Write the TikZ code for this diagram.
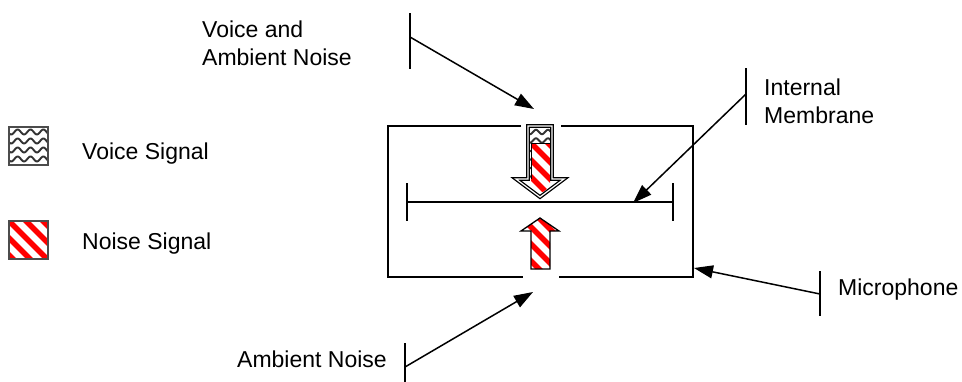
\documentclass[tikz,border=0pt]{standalone}
\usepackage{fontspec}
\setmainfont{Liberation Sans}
\usetikzlibrary{arrows.meta}
\begin{document}
\begin{tikzpicture}[x=1pt,y=-1pt,
  lbl/.style={font=\fontsize{23}{28}\selectfont, inner sep=0pt, anchor=base west},
  tickline/.style={line width=1.5pt},
  leader/.style={line width=1.5pt, -{Triangle[length=19pt,width=13pt]}},
  wall/.style={line width=2.6pt},
  outl/.style={line width=1.3pt},
  redstripe/.style={red, line width=5.5pt},
  waveline/.style={line width=1.9pt, black!80}]
\useasboundingbox (0,0) rectangle (962,381);

% ---------- legend ----------
\begin{scope}
  \clip (9,127) rectangle (48,165);
  \foreach \k in {0,...,4}{
    \pgfmathsetmacro{\yy}{127+5+9*\k}
    \draw[waveline] plot[domain=0:42, samples=50, smooth] ({8+\x}, {\yy+2.5*sin(\x*28)});
  }
\end{scope}
\draw[line width=1.3pt, black!70] (9,127) rectangle (48,165);
\node[lbl] (voicesig) at (82,159) {Voice Signal};

\begin{scope}
  \clip (9,221) rectangle (48,259);
  \foreach \k in {-4,...,3}
    \draw[redstripe] ({9+17*\k-10},211) -- ++(70,70);
\end{scope}
\draw[line width=1.3pt, black!70] (9,221) rectangle (48,259);
\node[lbl] (noisesig) at (82,249) {Noise Signal};

% ---------- microphone body ----------
\draw[wall] (521,126) -- (388,126) -- (388,277) -- (523,277);
\draw[wall] (561,126) -- (693,126) -- (693,277) -- (559,277);

% membrane
\coordinate (memL) at (407,202);
\coordinate (memR) at (673,202);
\draw[line width=1.7pt] (memL) -- (memR);
\draw[line width=1.7pt] (407,183) -- (407,221);
\draw[line width=1.7pt] (673,183) -- (673,221);

% ---------- down arrow (voice + noise) ----------
\fill[white] (528,126) -- (552,126) -- (552,179) -- (564,179) -- (540,197) -- (516,179) -- (528,179) -- cycle;
\begin{scope}
  \clip (528,126) rectangle (552,179);
  \foreach \k in {0,...,6}{
    \pgfmathsetmacro{\yy}{126+6+8.5*\k}
    \draw[waveline] plot[domain=0:28, samples=40, smooth] ({527+\x}, {\yy+2.2*sin(\x*30)});
  }
\end{scope}
\fill[white] (531,143) rectangle (550,190);
\begin{scope}
  \clip (531,143) -- (550,143) -- (550,179) -- (561,179) -- (540,194) -- (519,179) -- (531,179) -- cycle;
  \clip (531,143) rectangle (550,191);
  \foreach \k in {-4,...,3}
    \draw[redstripe] ({531+17*\k-10},133) -- ++(80,80);
\end{scope}
\draw[line width=0.8pt] (531,179) -- (531,143) -- (550,143) -- (550,179);
\draw[outl, double=white, double distance=1.2pt]
  (528,126) -- (552,126) -- (552,179) -- (564,179) -- (540,197) -- (516,179) -- (528,179) -- cycle;

% ---------- up arrow (noise) ----------
\fill[white] (531,269) -- (550,269) -- (550,231) -- (559,231) -- (540,218) -- (521,231) -- (531,231) -- cycle;
\begin{scope}
  \clip (531,269) -- (550,269) -- (550,231) -- (559,231) -- (540,218) -- (521,231) -- (531,231) -- cycle;
  \foreach \k in {-5,...,3}
    \draw[redstripe] ({522+17*\k-10},208) -- ++(80,80);
\end{scope}
\draw[outl] (531,269) -- (550,269) -- (550,231) -- (559,231) -- (540,218) -- (521,231) -- (531,231) -- cycle;

% ---------- annotations ----------
% Voice and Ambient Noise
\node[lbl] (vatext) at (202,37) {Voice and};
\node[lbl] (vatext2) at (202,65) {Ambient Noise};
\coordinate (vaT) at (410,13);
\coordinate (vaB) at (410,69);
\coordinate (vaM) at (410,37);
\coordinate (vaTip) at (534,109);
\draw[tickline] (vaT) -- (vaB);
\draw[leader] (vaM) -- (vaTip);

% Internal Membrane
\node[lbl] (imtext) at (764,95) {Internal};
\node[lbl] (imtext2) at (764,123) {Membrane};
\coordinate (imT) at (746,68);
\coordinate (imB) at (746,125);
\coordinate (imM) at (746,94);
\coordinate (imTip) at (633,203);
\draw[tickline] (imT) -- (imB);
\draw[leader] (imM) -- (imTip);

% Microphone
\node[lbl] (mictext) at (838,295) {Microphone};
\coordinate (micT) at (820,271);
\coordinate (micB) at (820,316);
\coordinate (micM) at (820,294);
\coordinate (micTip) at (694,268);
\draw[tickline] (micT) -- (micB);
\draw[leader] (micM) -- (micTip);

% Ambient Noise (bottom)
\node[lbl] (antext) at (237,367) {Ambient Noise};
\coordinate (anT) at (405,343);
\coordinate (anB) at (405,384);
\coordinate (anM) at (405,367);
\coordinate (anTip) at (533,292);
\draw[tickline] (anT) -- (anB);
\draw[leader] (anM) -- (anTip);
\end{tikzpicture}
\end{document}
